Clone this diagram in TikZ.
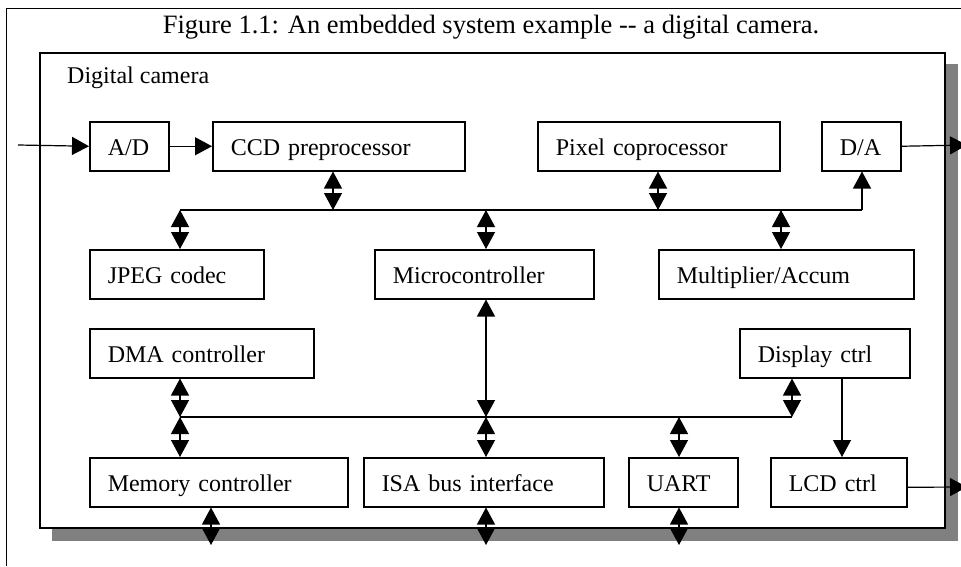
\documentclass[tikz,border=0pt]{standalone}
\usepackage{fontspec}
\setmainfont{Liberation Serif}
\usetikzlibrary{arrows.meta}

\definecolor{shadowgray}{HTML}{808080}

\tikzset{
  blk/.style={draw,line width=1.5pt,anchor=north west,inner xsep=18pt,inner ysep=0pt,
    minimum height=49pt,text height=22pt,text depth=4pt,align=left,
    font=\fontsize{24}{28}\selectfont},
  dbl/.style={line width=1.2pt,{Triangle[width=18pt,length=17pt]}-{Triangle[width=18pt,length=17pt]}},
  one/.style={line width=1.2pt,-{Triangle[width=18pt,length=17pt]}},
  bus/.style={line width=1.2pt},
}

\begin{document}
\begin{tikzpicture}[x=1pt,y=-1pt]
  \useasboundingbox (0,0) rectangle (961,566);
  % page frame and caption
  \draw[line width=1pt] (6,566) -- (6,8) -- (961,8);
  \node[anchor=base,inner sep=0,font=\fontsize{26.5}{30}\selectfont] (title) at (491,33)
    {Figure 1.1: An embedded system example -{}- a digital camera.};

  % camera box with its shadow
  \fill[shadowgray] (52,64) rectangle (958,541);
  \node[draw,line width=1.5pt,fill=white,anchor=north west,inner sep=0,
        minimum width=905pt,minimum height=475pt] (cam) at (39,52) {};
  \node[anchor=base west,inner sep=0,font=\fontsize{24}{28}\selectfont] (camlbl) at (67,83) {Digital camera};

  % blocks
  \node[blk,text width=43pt]  (ad)   at (89,121)  {A/D};
  \node[blk,text width=216pt] (ccd)  at (212,121) {CCD preprocessor};
  \node[blk,text width=206pt] (pix)  at (537,121) {Pixel coprocessor};
  \node[blk,text width=43pt]  (da)   at (821,121) {D/A};
  \node[blk,text width=138pt] (jpeg) at (89,249)  {JPEG codec};
  \node[blk,text width=183pt] (mcu)  at (374,249) {Microcontroller};
  \node[blk,text width=219pt] (mac)  at (658,249) {Multiplier/Accum};
  \node[blk,text width=188pt] (dma)  at (89,328)  {DMA controller};
  \node[blk,text width=134pt] (disp) at (739,328) {Display ctrl};
  \node[blk,text width=222pt] (mem)  at (89,457)  {Memory controller};
  \node[blk,text width=204pt] (isa)  at (363,457) {ISA bus interface};
  \node[blk,text width=73pt]  (uart) at (628,457) {UART};
  \node[blk,text width=100pt] (lcd)  at (770,457) {LCD ctrl};

  % outside world
  \coordinate (in)   at (18,145);
  \coordinate (outa) at (967,145);
  \coordinate (outl) at (967,487);
  \draw[one] (in) -- (ad.west);
  \draw[one] (ad.east) -- (ccd.west);
  \draw[one] (da.east) -- (outa);
  \draw[one] ([yshift=-5pt]lcd.east) -- (outl);

  % upper bus
  \coordinate (b1w) at (180,210);
  \coordinate (b1e) at (862,210);
  \coordinate (t1) at (333,210);
  \coordinate (t2) at (486,210);
  \coordinate (t3) at (658,210);
  \coordinate (t4) at (781,210);
  \draw[bus] (b1w) -- (b1e);
  \draw[one] (b1e) -- (b1e |- da.south);
  \draw[dbl] (t1 |- ccd.south) -- (t1);
  \draw[dbl] (t3 |- pix.south) -- (t3);
  \draw[dbl] (b1w) -- (b1w |- jpeg.north);
  \draw[dbl] (t2) -- (t2 |- mcu.north);
  \draw[dbl] (t4) -- (t4 |- mac.north);

  % lower bus
  \coordinate (b2w) at (180,417);
  \coordinate (b2e) at (792,417);
  \coordinate (u1) at (486,417);
  \coordinate (u2) at (679,417);
  \draw[bus] (b2w) -- (b2e);
  \draw[dbl] (b2w |- dma.south) -- (b2w);
  \draw[dbl] (b2w) -- (b2w |- mem.north);
  \draw[dbl] (u1 |- mcu.south) -- (u1);
  \draw[dbl] (u1) -- (u1 |- isa.north);
  \draw[dbl] (u2) -- (u2 |- uart.north);
  \draw[dbl] (b2e |- disp.south) -- (b2e);
  \coordinate (v1) at (842,0);
  \draw[one] (v1 |- disp.south) -- (v1 |- lcd.north);

  % system bus leaving the camera
  \coordinate (s1) at (211,545);
  \coordinate (s2) at (486,545);
  \coordinate (s3) at (679,545);
  \draw[dbl] (s1 |- mem.south) -- (s1);
  \draw[dbl] (s2 |- isa.south) -- (s2);
  \draw[dbl] (s3 |- uart.south) -- (s3);
\end{tikzpicture}
\end{document}
